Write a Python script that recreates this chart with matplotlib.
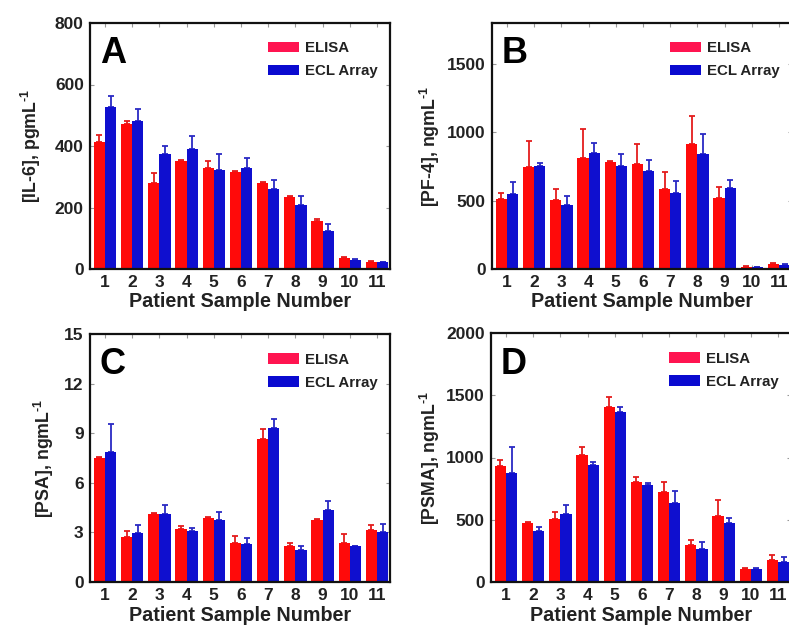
import matplotlib
matplotlib.use("Agg")
import matplotlib.pyplot as plt
from matplotlib.patches import Patch
import numpy as np

plt.rcParams['font.family'] = ['Liberation Sans', 'DejaVu Sans']
plt.rcParams['font.weight'] = 'bold'
plt.rcParams['mathtext.fontset'] = 'custom'
plt.rcParams['mathtext.rm'] = 'Liberation Sans:bold'
plt.rcParams['mathtext.bf'] = 'Liberation Sans:bold'
plt.rcParams['mathtext.default'] = 'bf'

samples = list(range(1, 12))
tick_labels = [str(s) for s in samples]

# Panel A: IL-6 (pg/mL)
il6_elisa = [414, 471, 281, 350, 328, 316, 279, 234, 155, 36, 24]
il6_elisa_err = [22, 11, 30, 5, 23, 3, 5, 4, 8, 2, 2]
il6_ecl = [528, 481, 374, 390, 321, 330, 259, 208, 122, 30, 22]
il6_ecl_err = [34, 38, 26, 42, 54, 31, 31, 28, 25, 2, 2]

# Panel B: PF-4 (ng/mL)
pf4_elisa = [511, 750, 506, 811, 782, 765, 589, 913, 519, 17, 37]
pf4_elisa_err = [44, 190, 81, 212, 9, 150, 124, 209, 80, 2, 4]
pf4_ecl = [550, 757, 465, 847, 755, 716, 555, 840, 592, 15, 32]
pf4_ecl_err = [86, 17, 71, 78, 85, 78, 90, 146, 58, 2, 4]

# Panel C: PSA (ng/mL)
psa_elisa = [7.51, 2.73, 4.10, 3.23, 3.90, 2.38, 8.64, 2.16, 3.78, 2.36, 3.13]
psa_elisa_err = [0.06, 0.36, 0.06, 0.14, 0.06, 0.41, 0.59, 0.20, 0.06, 0.57, 0.30]
psa_ecl = [7.87, 2.97, 4.14, 3.07, 3.74, 2.28, 9.29, 1.92, 4.34, 2.16, 3.03]
psa_ecl_err = [1.66, 0.46, 0.50, 0.22, 0.50, 0.36, 0.56, 0.24, 0.55, 0.04, 0.50]

# Panel D: PSMA (ng/mL)
psma_elisa = [932, 470, 507, 1020, 1409, 800, 725, 301, 529, 107, 180]
psma_elisa_err = [48, 13, 54, 62, 76, 46, 80, 35, 129, 6, 40]
psma_ecl = [872, 408, 550, 942, 1366, 778, 636, 268, 470, 102, 161]
psma_ecl_err = [215, 35, 67, 19, 38, 19, 94, 54, 48, 13, 40]

series_names = ["ELISA", "ECL Array"]

panels = [
    dict(letter="A", ylabel=r"[IL-6], pgmL$^{\text{-1}}$", ylim=(0, 800), yticks=[0, 200, 400, 600, 800],
         e=il6_elisa, ee=il6_elisa_err, c=il6_ecl, ce=il6_ecl_err,
         rect=[90, 23, 300, 246], ylx=-0.157),
    dict(letter="B", ylabel=r"[PF-4], ngmL$^{\text{-1}}$", ylim=(0, 1800), yticks=[0, 500, 1000, 1500],
         e=pf4_elisa, ee=pf4_elisa_err, c=pf4_ecl, ce=pf4_ecl_err,
         rect=[492, 23, 300, 246], ylx=-0.167),
    dict(letter="C", ylabel=r"[PSA], ngmL$^{\text{-1}}$", ylim=(0, 15), yticks=[0, 3, 6, 9, 12, 15],
         e=psa_elisa, ee=psa_elisa_err, c=psa_ecl, ce=psa_ecl_err,
         rect=[90, 334, 300, 248], ylx=-0.113),
    dict(letter="D", ylabel=r"[PSMA], ngmL$^{\text{-1}}$", ylim=(0, 2000), yticks=[0, 500, 1000, 1500, 2000],
         e=psma_elisa, ee=psma_elisa_err, c=psma_ecl, ce=psma_ecl_err,
         rect=[491, 333, 300, 249], ylx=-0.163),
]

W, H = 789, 627
fig = plt.figure(figsize=(W / 100, H / 100), dpi=100)

red = "#ff0a0a"
blue = "#0f0fcf"
red_err = "#e41c1c"
blue_err = "#2a2ac4"
legend_red = "#ff1450"
legend_blue = "#0a0ad0"

x = np.array(samples, dtype=float)
bw = 0.41

for p in panels:
    l, t, w, h = p["rect"]
    ax = fig.add_axes([l / W, 1 - (t + h) / H, w / W, h / H])
    ax.bar(x - bw / 2, p["e"], width=bw, color=red, zorder=2)
    ax.bar(x + bw / 2, p["c"], width=bw, color=blue, zorder=2)
    ax.errorbar(x - bw / 2, p["e"], yerr=[np.zeros(len(samples)), p["ee"]], fmt="none",
                ecolor=red_err, elinewidth=1.3, capsize=2.2, capthick=1.3, zorder=1)
    ax.errorbar(x + bw / 2, p["c"], yerr=[np.zeros(len(samples)), p["ce"]], fmt="none",
                ecolor=blue_err, elinewidth=1.3, capsize=2.2, capthick=1.3, zorder=1)
    ax.set_xlim(0.45, 11.48)
    ax.set_ylim(*p["ylim"])
    ax.set_yticks(p["yticks"])
    ax.set_xticks(x)
    ax.set_xticklabels(tick_labels)
    ax.tick_params(direction="in", top=True, right=True, length=3, width=0.8,
                   color="#999999", labelsize=12.5, pad=4.5)
    for lab in ax.get_xticklabels() + ax.get_yticklabels():
        lab.set_fontweight("bold")
        lab.set_color("#222222")
    for s in ax.spines.values():
        s.set_linewidth(1.6)
        s.set_color("#111111")
    ax.set_xlabel("Patient Sample Number", fontsize=14.2, fontweight="bold", color="#222222")
    ax.xaxis.set_label_coords(0.5, -0.095)
    ax.set_ylabel(p["ylabel"], fontsize=12.8, fontweight="bold", color="#222222")
    ax.yaxis.set_label_coords(p["ylx"], 0.5)
    ax.text(0.033, 0.837, p["letter"], transform=ax.transAxes, fontsize=26,
            fontweight="bold", va="baseline", ha="left", color="black")
    handles = [Patch(facecolor=legend_red, edgecolor="none"),
               Patch(facecolor=legend_blue, edgecolor="none")]
    leg = ax.legend(handles, series_names, loc="upper left", bbox_to_anchor=(0.593, 0.925),
                    frameon=False, borderpad=0, borderaxespad=0, handlelength=2.05,
                    handleheight=0.7, handletextpad=0.45, labelspacing=0.6,
                    prop={"weight": "bold", "size": 10.8})
    for txt in leg.get_texts():
        txt.set_color("#222222")

fig.savefig("out.png", dpi=100)
